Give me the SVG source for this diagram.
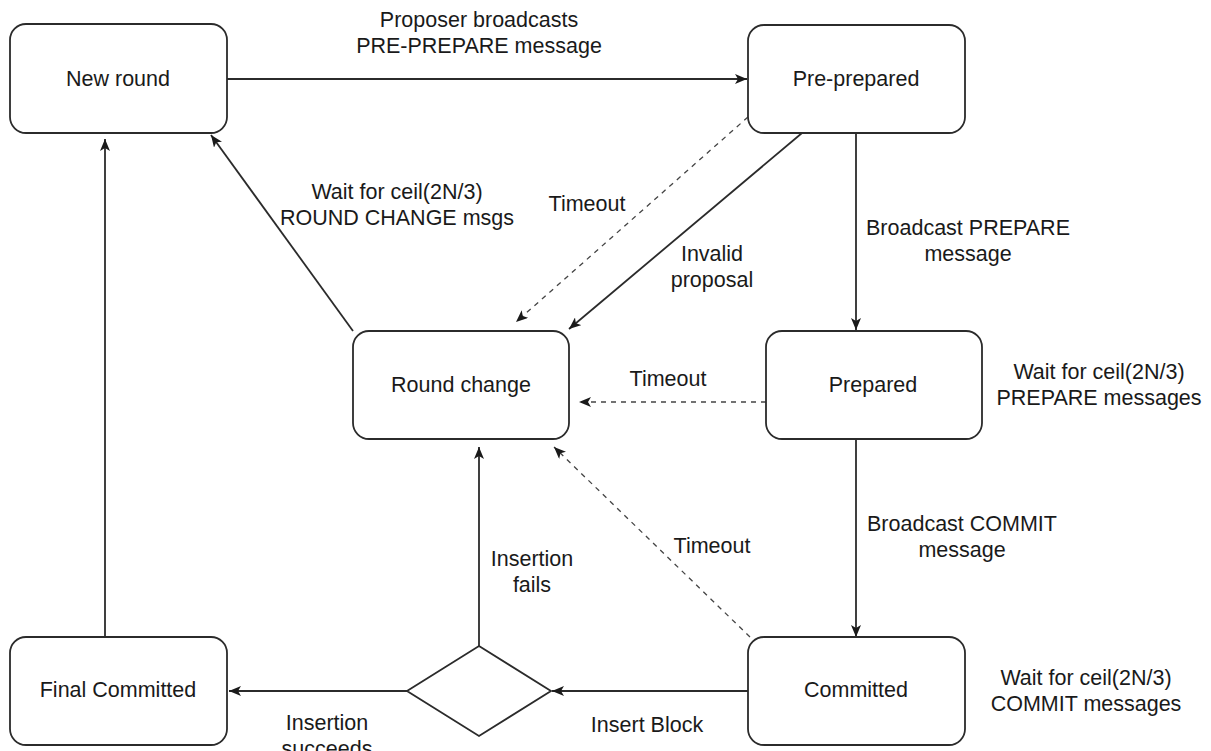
<svg xmlns="http://www.w3.org/2000/svg" width="1211" height="751" viewBox="0 0 1211 751">
  <style>
    .box { fill: #ffffff; stroke: #2b2b2b; stroke-width: 1.8; }
    .edge { fill: none; stroke: #2b2b2b; stroke-width: 1.8; }
    .dash { fill: none; stroke: #444444; stroke-width: 1.3; stroke-dasharray: 5 5; }
    .lbl { font-family: "Liberation Sans", Arial, Helvetica, sans-serif; font-size: 21.5px; fill: #1a1a1a; text-anchor: middle; }
  </style>
  <defs>
    <marker id="arrow" viewBox="0 0 12 10" refX="12" refY="5" markerWidth="12" markerHeight="10" markerUnits="userSpaceOnUse" orient="auto">
      <path d="M0,0 L12,5 L0,10 L3,5 Z" fill="#1a1a1a"/>
    </marker>
  </defs>
  <rect width="1211" height="751" fill="#ffffff"/>

  <g id="connectors">
    <!-- New round -> Pre-prepared -->
    <line class="edge" x1="227" y1="79" x2="747" y2="79" marker-end="url(#arrow)"/>
    <!-- Pre-prepared -> Prepared -->
    <line class="edge" x1="856" y1="133" x2="856" y2="330" marker-end="url(#arrow)"/>
    <!-- Prepared -> Committed -->
    <line class="edge" x1="856" y1="439" x2="856" y2="637" marker-end="url(#arrow)"/>
    <!-- Pre-prepared -> Round change (timeout) -->
    <line class="dash" x1="748" y1="117" x2="516" y2="322" marker-end="url(#arrow)"/>
    <!-- Pre-prepared -> Round change (invalid proposal) -->
    <line class="edge" x1="802" y1="133" x2="569" y2="329" marker-end="url(#arrow)"/>
    <!-- Prepared -> Round change (timeout) -->
    <line class="dash" x1="766" y1="402" x2="579" y2="402" marker-end="url(#arrow)"/>
    <!-- Committed -> Round change (timeout) -->
    <line class="dash" x1="750" y1="637" x2="554" y2="447" marker-end="url(#arrow)"/>
    <!-- Round change -> New round -->
    <line class="edge" x1="353" y1="331" x2="211" y2="135" marker-end="url(#arrow)"/>
    <!-- Committed -> decision -->
    <line class="edge" x1="748" y1="691" x2="552" y2="691" marker-end="url(#arrow)"/>
    <!-- decision -> Final Committed -->
    <line class="edge" x1="407" y1="691" x2="229" y2="691" marker-end="url(#arrow)"/>
    <!-- decision -> Round change -->
    <line class="edge" x1="479" y1="646" x2="479" y2="447" marker-end="url(#arrow)"/>
    <!-- Final Committed -> New round -->
    <line class="edge" x1="105" y1="637" x2="105" y2="139" marker-end="url(#arrow)"/>

    <!-- edge labels -->
    <text class="lbl" x="479" y="27">Proposer broadcasts</text>
    <text class="lbl" x="479" y="53">PRE-PREPARE message</text>
    <text class="lbl" x="587" y="211">Timeout</text>
    <text class="lbl" x="712" y="261">Invalid</text>
    <text class="lbl" x="712" y="287">proposal</text>
    <text class="lbl" x="397" y="199">Wait for ceil(2N/3)</text>
    <text class="lbl" x="397" y="225">ROUND CHANGE msgs</text>
    <text class="lbl" x="968" y="235">Broadcast PREPARE</text>
    <text class="lbl" x="968" y="261">message</text>
    <text class="lbl" x="668" y="386">Timeout</text>
    <text class="lbl" x="1099" y="379">Wait for ceil(2N/3)</text>
    <text class="lbl" x="1099" y="405">PREPARE messages</text>
    <text class="lbl" x="962" y="531">Broadcast COMMIT</text>
    <text class="lbl" x="962" y="557">message</text>
    <text class="lbl" x="712" y="553">Timeout</text>
    <text class="lbl" x="532" y="566">Insertion</text>
    <text class="lbl" x="532" y="592">fails</text>
    <text class="lbl" x="1086" y="685">Wait for ceil(2N/3)</text>
    <text class="lbl" x="1086" y="711">COMMIT messages</text>
    <text class="lbl" x="647" y="732">Insert Block</text>
    <text class="lbl" x="327" y="730">Insertion</text>
    <text class="lbl" x="327" y="756">succeeds</text>
  </g>

  <g id="new-round">
    <rect class="box" x="10" y="24" width="217" height="109" rx="16" ry="16"/>
    <text class="lbl" x="118" y="86">New round</text>
  </g>
  <g id="pre-prepared">
    <rect class="box" x="748" y="25" width="217" height="108" rx="16" ry="16"/>
    <text class="lbl" x="856" y="86">Pre-prepared</text>
  </g>
  <g id="round-change">
    <rect class="box" x="353" y="331" width="216" height="108" rx="16" ry="16"/>
    <text class="lbl" x="461" y="392">Round change</text>
  </g>
  <g id="prepared">
    <rect class="box" x="766" y="331" width="216" height="108" rx="16" ry="16"/>
    <text class="lbl" x="873" y="392">Prepared</text>
  </g>
  <g id="committed">
    <rect class="box" x="748" y="637" width="217" height="108" rx="16" ry="16"/>
    <text class="lbl" x="856" y="697">Committed</text>
  </g>
  <g id="final-committed">
    <rect class="box" x="10" y="637" width="217" height="108" rx="16" ry="16"/>
    <text class="lbl" x="118" y="697">Final Committed</text>
  </g>
  <g id="insert-decision">
    <polygon class="box" points="479,646 551,691 479,736 407,691"/>
  </g>
</svg>
